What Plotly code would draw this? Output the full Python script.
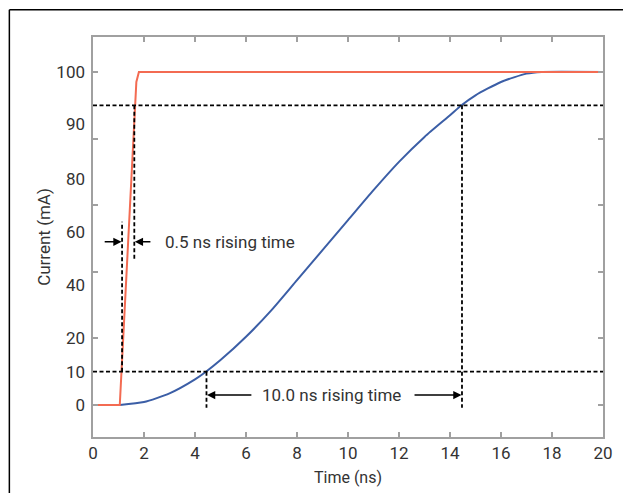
import plotly.graph_objects as go

# ---- data ----
red_time = [0, 1.05, 1.7, 1.8, 20]
red_current = [0, 0, 97, 100, 100]

blue_time = [1.05, 2, 3, 4, 4.43, 5, 6, 7, 8, 9, 10, 11, 12, 13, 14, 14.45, 15, 16, 17, 17.6, 20]
blue_current = [0, 0.9, 3.5, 7.7, 10, 13.5, 20.5, 28.5, 37.5, 46.5, 55.5, 64.5, 73, 80.5, 87, 90, 93, 97, 99.5, 100, 100]

x_ticks = [0, 2, 4, 6, 8, 10, 12, 14, 16, 18, 20]
y_tick_marks = [0, 20, 40, 60, 80, 100]
y_label_pos = [0, 10, 20, 36, 52, 68, 84.5, 100]
y_label_text = ["0", "10", "20", "40", "60", "80", "90", "100"]

level_lo, level_hi = 10, 90
fast_t10, fast_t90 = 1.14, 1.62
slow_t10, slow_t90 = 4.45, 14.47

FONT = "Roboto, Liberation Sans, sans-serif"
TXT = "#333333"
AX = "#a0a0a0"
DASH = "4px,2.5px"

fig = go.Figure()

# dashed guide lines (on y2)
guides = [
    ([0, 20], [level_lo, level_lo]),
    ([0, 20], [level_hi, level_hi]),
    ([fast_t10, fast_t10], [level_lo, 55]),
    ([fast_t90, fast_t90], [level_hi, 43.5]),
    ([slow_t10, slow_t10], [level_lo, -0.8]),
    ([slow_t90, slow_t90], [level_hi, -0.8]),
]
for gx, gy in guides:
    fig.add_trace(go.Scatter(x=gx, y=gy, mode="lines", yaxis="y2",
                             line=dict(color="black", width=1.8, dash=DASH),
                             hoverinfo="skip", showlegend=False))

fig.add_trace(go.Scatter(x=blue_time, y=blue_current, mode="lines",
                         line=dict(color="#3b5ea6", width=2, shape="spline", smoothing=0.6),
                         showlegend=False))
fig.add_trace(go.Scatter(x=red_time, y=red_current, mode="lines",
                         line=dict(color="#f36b52", width=2),
                         showlegend=False))

ann = []
arrows = [((1.12, 49), (0.4, 49)), ((1.64, 49), (2.31, 49)),
          ((4.47, 3), (6.27, 3)), ((14.45, 3), (12.55, 3))]
for (hx, hy), (tx, ty) in arrows:
    ann.append(dict(x=hx, y=hy, ax=tx, ay=ty, xref="x", yref="y", axref="x", ayref="y",
                    text="", showarrow=True, arrowhead=2, arrowsize=1.1, arrowwidth=1.5,
                    arrowcolor="black", standoff=0, startstandoff=0))
ann.append(dict(x=2.75, y=49, xref="x", yref="y", text="0.5 ns rising time", showarrow=False,
                xanchor="left", yanchor="middle", font=dict(family=FONT, size=17, color=TXT)))
ann.append(dict(x=6.55, y=3, xref="x", yref="y", text="10.0 ns rising time", showarrow=False,
                xanchor="left", yanchor="middle", font=dict(family=FONT, size=17, color=TXT)))

# page body adds an 8px offset, so the figure is 8px smaller and margins shifted
fig.update_layout(
    width=623, height=485,
    margin=dict(l=85, r=28, t=29, b=56, autoexpand=False),
    paper_bgcolor="white", plot_bgcolor="white",
    font=dict(family=FONT, size=16, color=TXT),
    annotations=ann,
    xaxis=dict(range=[0, 20], tickvals=x_ticks, ticks="inside", ticklen=5, tickcolor=AX,
               tickwidth=1.5, showline=True, linecolor=AX, linewidth=2, mirror="ticks",
               showgrid=False, zeroline=False, automargin=False, ticklabelstandoff=0,
               title=dict(text="Time (ns)", standoff=9, font=dict(family=FONT, size=16, color=TXT)),
               tickfont=dict(family=FONT, size=17, color=TXT)),
    yaxis=dict(range=[-9.6, 110.5], tickvals=y_tick_marks, ticks="inside", ticklen=5,
               tickcolor=AX, tickwidth=1.5, showline=True, linecolor=AX, linewidth=2,
               mirror="ticks", showticklabels=False, showgrid=False, zeroline=False,
               automargin=False),
    yaxis2=dict(range=[-9.6, 110.5], overlaying="y", side="left", anchor="x",
                tickvals=y_label_pos, ticktext=y_label_text, ticks="", showline=False,
                showgrid=False, zeroline=False, automargin=False, ticklabelstandoff=7,
                tickfont=dict(family=FONT, size=17, color=TXT),
                title=dict(text="Current (mA)", standoff=1, font=dict(family=FONT, size=17, color=TXT))),
    shapes=[
        dict(type="line", xref="paper", yref="paper", x0=-0.164, x1=1.1, y0=1.068, y1=1.068,
             line=dict(color="black", width=1.5)),
        dict(type="line", xref="paper", yref="paper", x0=-0.164, x1=-0.164, y0=1.068, y1=-0.2,
             line=dict(color="black", width=1.5)),
    ],
)

fig.write_html("out.html")
